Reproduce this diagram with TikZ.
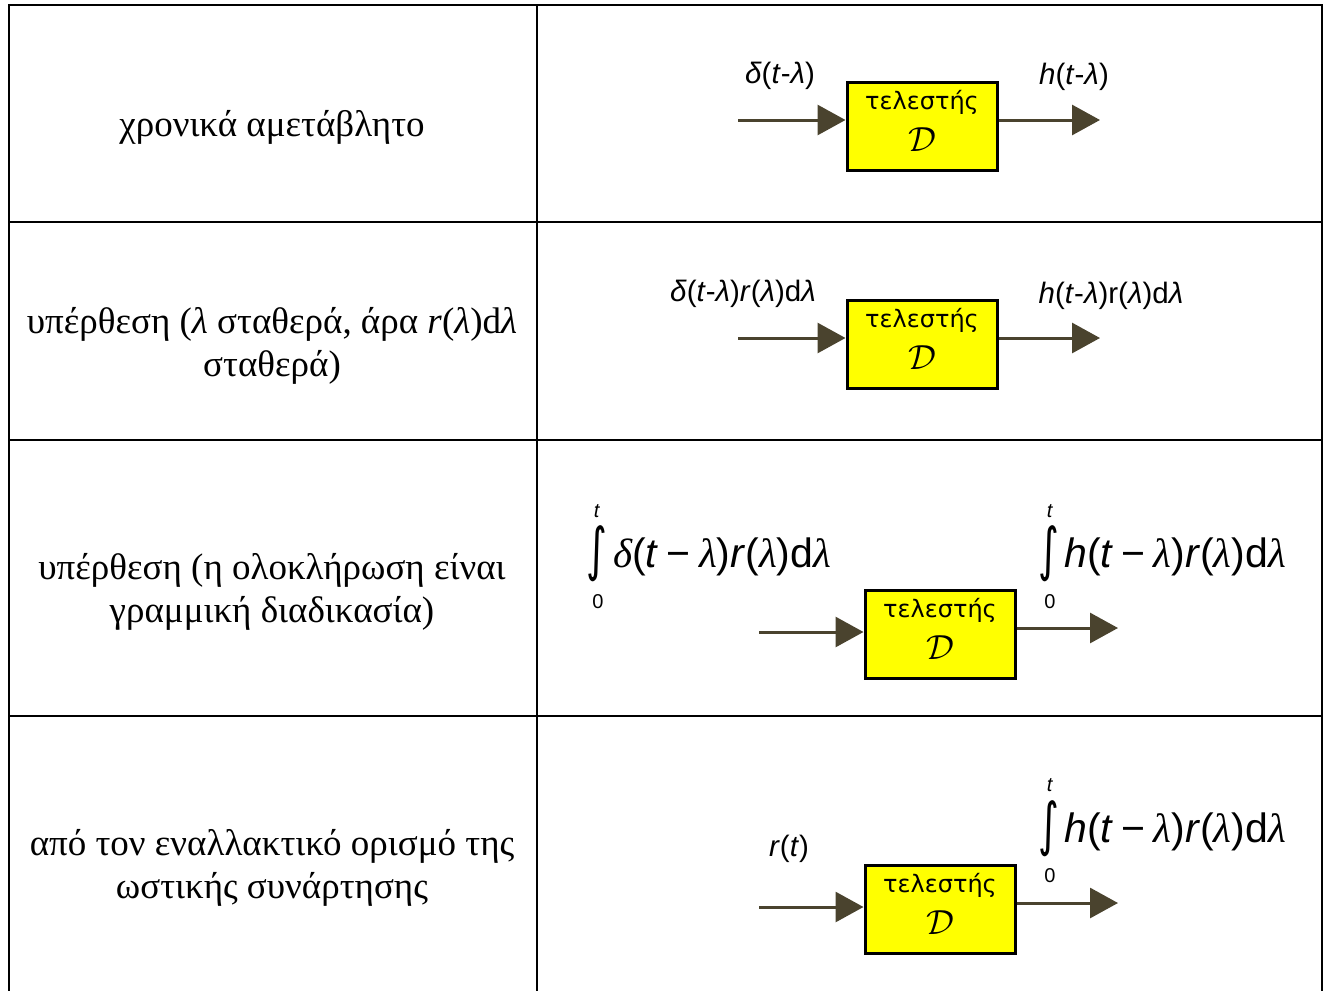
\documentclass[tikz,border=0pt]{standalone}
\usepackage{fontspec}
\setmainfont{Liberation Serif}
\newfontfamily\lsans{Liberation Sans}
\newfontfamily\boxfont{DejaVu Sans}
\usetikzlibrary{arrows.meta}

\definecolor{arrowc}{RGB}{74,67,46}
\definecolor{opyellow}{RGB}{255,255,0}

% Greek symbols set in serif italic inside the sans formulas
\newcommand\Lam{{\rmfamily\itshape λ}}
\newcommand\Del{{\rmfamily\itshape δ}}
\newcommand\mminus{\hspace{0.2em}−\hspace{0.2em}}

\tikzset{
  grid/.style={line width=2pt, black, line cap=rect},
  desc/.style={font=\fontsize{37}{42.5}\selectfont, align=center, inner sep=0pt},
  opbox/.style={draw=black, line width=3pt, fill=opyellow, minimum width=150pt, minimum height=88pt, inner sep=0pt},
  optext/.style={font=\boxfont\fontsize{24}{42}\selectfont, align=center, inner sep=0pt},
  flow/.style={draw=arrowc, line width=3pt, -{Triangle[length=28pt,width=30pt]}},
  sig/.style={font=\lsans\fontsize{29.5}{30}\selectfont, inner sep=0pt},
  intbody/.style={font=\lsans\fontsize{41}{44}\selectfont, inner sep=0pt, anchor=base west},
  intsign/.style={font=\boxfont\fontsize{40}{40}\selectfont, inner sep=0pt},
  lim/.style={font=\lsans\fontsize{20}{22}\selectfont, inner sep=0pt},
}

% operator caption: name over a script D
\newcommand\opname{τελεστής\\\scalebox{1.4}{$\mathcal{D}$}}

\begin{document}
\begin{tikzpicture}[x=1pt,y=-1pt]
\useasboundingbox (0,0) rectangle (1324,990);

% table rules
\draw[grid] (9,5) -- (1322,5);
\draw[grid] (9,5) -- (9,995);
\draw[grid] (537,5) -- (537,995);
\draw[grid] (1322,5) -- (1322,995);
\draw[grid] (9,222) -- (1322,222);
\draw[grid] (9,440) -- (1322,440);
\draw[grid] (9,716) -- (1322,716);

% left column descriptions
\node[desc] (d1) at (272,127) {χρονικά αμετάβλητο};
\node[desc] (d2) at (272,346) {υπέρθεση (\textit{λ} σταθερά, άρα \textit{r}(\textit{λ})d\textit{λ}\\σταθερά)};
\node[desc] (d3) at (272,592) {υπέρθεση (η ολοκλήρωση είναι\\γραμμική διαδικασία)};
\node[desc] (d4) at (272,868) {από τον εναλλακτικό ορισμό της\\ωστικής συνάρτησης};

% row 1
\node[opbox] (b1) at (922,126) {};
\node[optext] (b1t) at ([yshift=5pt]b1.center) {\opname};
\coordinate (i1) at (738,120);
\coordinate (o1) at (1100,120);
\draw[flow] (i1) -- (i1 -| b1.west);
\draw[flow] (b1.east |- o1) -- (o1);
\node[sig] (l1a) at (780,76) {\textit{δ}(\textit{t}-\textit{λ})};
\node[sig] (l1b) at (1074,77) {\textit{h}(\textit{t}-\textit{λ})};

% row 2
\node[opbox] (b2) at (922,344) {};
\node[optext] (b2t) at ([yshift=5pt]b2.center) {\opname};
\coordinate (i2) at (738,338);
\coordinate (o2) at (1100,338);
\draw[flow] (i2) -- (i2 -| b2.west);
\draw[flow] (b2.east |- o2) -- (o2);
\node[sig] (l2a) at (743,294) {\textit{δ}(\textit{t}-\textit{λ})\textit{r}(\textit{λ})d\textit{λ}};
\node[sig] (l2b) at (1111,296) {\textit{h}(\textit{t}-\textit{λ})r(\textit{λ})d\textit{λ}};

% row 3
\node[opbox] (b3) at (940,634) {};
\node[optext] (b3t) at ([yshift=5pt]b3.center) {\opname};
\coordinate (i3) at (759,632);
\coordinate (o3) at (1118,628);
\draw[flow] (i3) -- (i3 -| b3.west);
\draw[flow] (b3.east |- o3) -- (o3);
\node[intsign] (s3a) at (597,554) {\scalebox{1}[1.45]{∫}};
\node[lim] (t3a) at (597,511) {\textit{t}};
\node[lim] (z3a) at (598,602) {0};
\node[intbody] (e3a) at (613,567) {\Del(\textit{t}\mminus\Lam)\textit{r}(\Lam)d\Lam};
\node[intsign] (s3b) at (1049,554) {\scalebox{1}[1.45]{∫}};
\node[lim] (t3b) at (1050,511) {\textit{t}};
\node[lim] (z3b) at (1050,602) {0};
\node[intbody] (e3b) at (1064,567) {\textit{h}(\textit{t}\mminus\Lam)\textit{r}(\Lam)d\Lam};

% row 4
\node[opbox] (b4) at (940,909) {};
\node[optext] (b4t) at ([yshift=5pt]b4.center) {\opname};
\coordinate (i4) at (759,907);
\coordinate (o4) at (1118,903);
\draw[flow] (i4) -- (i4 -| b4.west);
\draw[flow] (b4.east |- o4) -- (o4);
\node[sig] (l4a) at (789,849) {\textit{r}(\textit{t})};
\node[intsign] (s4b) at (1049,829) {\scalebox{1}[1.45]{∫}};
\node[lim] (t4b) at (1050,785) {\textit{t}};
\node[lim] (z4b) at (1050,876) {0};
\node[intbody] (e4b) at (1064,842) {\textit{h}(\textit{t}\mminus\Lam)\textit{r}(\Lam)d\Lam};
\end{tikzpicture}
\end{document}
